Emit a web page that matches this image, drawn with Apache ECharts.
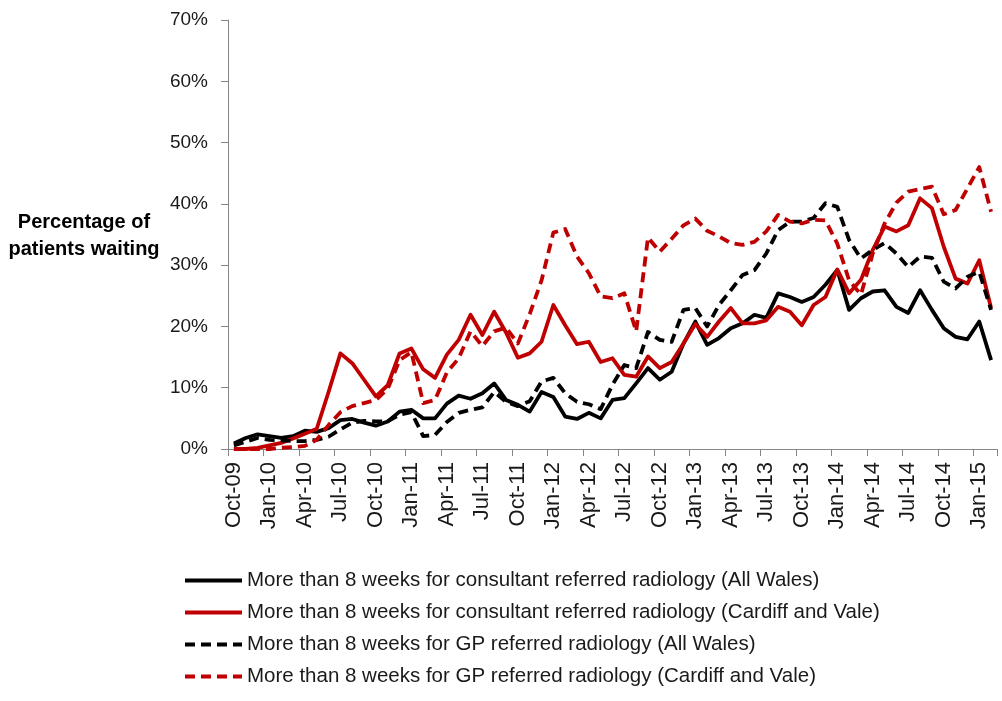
<!DOCTYPE html>
<html>
<head>
<meta charset="utf-8">
<script src="https://cdn.jsdelivr.net/npm/echarts@6/dist/echarts.min.js"></script>
<style>
  html, body { margin: 0; padding: 0; background: #fff; }
  #chart { width: 1002px; height: 701px; }
</style>
</head>
<body>
<div id="chart"></div>
<script>
// Monthly categories, Oct 2009 to Feb 2015
const months = [
  'Oct-09','Nov-09','Dec-09',
  'Jan-10','Feb-10','Mar-10','Apr-10','May-10','Jun-10','Jul-10','Aug-10','Sep-10','Oct-10','Nov-10','Dec-10',
  'Jan-11','Feb-11','Mar-11','Apr-11','May-11','Jun-11','Jul-11','Aug-11','Sep-11','Oct-11','Nov-11','Dec-11',
  'Jan-12','Feb-12','Mar-12','Apr-12','May-12','Jun-12','Jul-12','Aug-12','Sep-12','Oct-12','Nov-12','Dec-12',
  'Jan-13','Feb-13','Mar-13','Apr-13','May-13','Jun-13','Jul-13','Aug-13','Sep-13','Oct-13','Nov-13','Dec-13',
  'Jan-14','Feb-14','Mar-14','Apr-14','May-14','Jun-14','Jul-14','Aug-14','Sep-14','Oct-14','Nov-14','Dec-14',
  'Jan-15','Feb-15'
];

// Percentage of patients waiting more than 8 weeks
const consultantAllWales = [
  0.9, 1.8, 2.4, 2.1, 1.8, 2.1, 3.0, 2.8, 3.4, 4.7,
  4.9, 4.3, 3.8, 4.5, 6.1, 6.4, 5.0, 5.0, 7.4, 8.7,
  8.2, 9.1, 10.7, 8.0, 7.2, 6.1, 9.3, 8.5, 5.3, 4.9,
  5.9, 5.0, 8.0, 8.3, 10.7, 13.2, 11.3, 12.6, 17.2, 20.8,
  17.0, 18.1, 19.7, 20.5, 21.9, 21.4, 25.4, 24.8, 24.0, 24.8,
  26.8, 29.2, 22.7, 24.6, 25.7, 25.9, 23.2, 22.2, 25.9, 22.7,
  19.7, 18.3, 17.9, 20.8, 14.5
];
const consultantCardiff = [
  0.0, 0.0, 0.2, 0.6, 1.0, 1.7, 2.5, 3.3, 9.3, 15.6,
  14.0, 11.3, 8.6, 10.4, 15.6, 16.4, 13.0, 11.6, 15.4, 17.8,
  21.9, 18.6, 22.4, 19.0, 14.9, 15.6, 17.5, 23.5, 20.2, 17.1,
  17.5, 14.2, 14.8, 12.1, 11.8, 15.1, 13.2, 14.2, 17.2, 20.4,
  18.3, 20.8, 23.0, 20.5, 20.5, 21.0, 23.2, 22.4, 20.2, 23.5,
  24.8, 29.3, 25.4, 27.6, 32.5, 36.3, 35.5, 36.5, 40.9, 39.3,
  33.0, 27.8, 27.0, 30.8, 23.0
];
const gpAllWales = [
  0.6, 1.2, 1.8, 1.5, 1.4, 1.3, 1.3, 1.5, 2.0, 3.2,
  4.3, 4.6, 4.5, 4.5, 5.6, 6.0, 2.1, 2.3, 4.4, 5.9,
  6.4, 6.8, 9.3, 7.7, 7.0, 7.8, 11.0, 11.6, 9.1, 7.7,
  7.3, 6.5, 10.5, 13.7, 13.2, 19.1, 17.8, 17.5, 22.7, 23.0,
  20.0, 23.5, 25.9, 28.4, 29.2, 31.9, 35.7, 37.1, 37.1, 37.7,
  40.1, 39.5, 34.1, 31.1, 32.5, 33.6, 31.9, 29.7, 31.4, 31.2,
  27.3, 26.2, 28.1, 28.9, 22.7
];
const gpCardiff = [
  0.0, 0.0, 0.0, 0.0, 0.2, 0.3, 0.5, 1.5, 3.9, 6.0,
  7.0, 7.5, 8.0, 9.8, 14.5, 15.8, 7.5, 8.0, 12.5, 14.8,
  19.2, 16.8, 19.2, 19.8, 17.2, 22.0, 27.5, 35.3, 35.9, 31.4,
  28.7, 24.9, 24.6, 25.4, 19.2, 34.5, 32.2, 34.3, 36.5, 37.6,
  35.6, 34.7, 33.6, 33.3, 33.8, 35.5, 38.2, 37.1, 36.8, 37.4,
  37.3, 33.5, 27.5, 25.2, 31.9, 36.8, 40.2, 42.0, 42.4, 42.8,
  38.3, 39.0, 42.5, 46.0, 38.7
];

const seriesNames = [
  'More than 8 weeks for consultant referred radiology (All Wales)',
  'More than 8 weeks for consultant referred radiology (Cardiff and Vale)',
  'More than 8 weeks for GP referred radiology (All Wales)',
  'More than 8 weeks for GP referred radiology (Cardiff and Vale)'
];

const FONT = '"Liberation Sans", Arial, sans-serif';
const RED = '#C00000';
const BLACK = '#000000';
const AXIS = '#868686';
const DASH = [10, 6];

function lineSeries(name, data, color, dashed) {
  return {
    name: name,
    type: 'line',
    data: data,
    symbol: 'none',
    showSymbol: false,
    smooth: false,
    animation: false,
    lineStyle: { color: color, width: 3.8, type: dashed ? DASH : 'solid', cap: 'butt', join: 'round' },
    itemStyle: { color: color }
  };
}

const chart = echarts.init(document.getElementById('chart'), null, { renderer: 'canvas' });
chart.setOption({
  backgroundColor: '#ffffff',
  animation: false,
  grid: { left: 228, right: 5, top: 20, bottom: 252, containLabel: false },
  xAxis: {
    type: 'category',
    data: months,
    boundaryGap: true,
    axisLine: { show: true, lineStyle: { color: AXIS, width: 1 } },
    axisTick: { show: true, interval: 2, length: 7, lineStyle: { color: AXIS } },
    axisLabel: {
      interval: 2, rotate: 90, margin: 13,
      fontFamily: FONT, fontSize: 22, color: '#1a1a1a'
    },
    splitLine: { show: false }
  },
  yAxis: {
    type: 'value',
    min: 0, max: 70, interval: 10,
    axisLine: { show: true, lineStyle: { color: AXIS, width: 1 } },
    axisTick: { show: true, length: 7, lineStyle: { color: AXIS } },
    axisLabel: {
      formatter: '{value}%', margin: 20,
      fontFamily: FONT, fontSize: 19, color: '#1a1a1a'
    },
    splitLine: { show: false }
  },
  legend: {
    orient: 'vertical',
    left: 183,
    top: 570,
    padding: 0,
    itemWidth: 57,
    itemHeight: 14,
    itemGap: 11,
    itemStyle: { opacity: 0 },
    lineStyle: { width: 4 },
    data: seriesNames,
    textStyle: { fontFamily: FONT, fontSize: 20.5, color: '#1a1a1a' }
  },
  graphic: [{
    type: 'text',
    x: 84,
    y: 236,
    style: {
      text: 'Percentage of\npatients waiting',
      font: 'bold 20px "Liberation Sans", Arial, sans-serif',
      fill: '#000',
      align: 'center',
      verticalAlign: 'middle',
      lineHeight: 27
    }
  }],
  series: [
    lineSeries(seriesNames[0], consultantAllWales, BLACK, false),
    lineSeries(seriesNames[1], consultantCardiff, RED, false),
    lineSeries(seriesNames[2], gpAllWales, BLACK, true),
    lineSeries(seriesNames[3], gpCardiff, RED, true)
  ]
});
</script>
</body>
</html>
